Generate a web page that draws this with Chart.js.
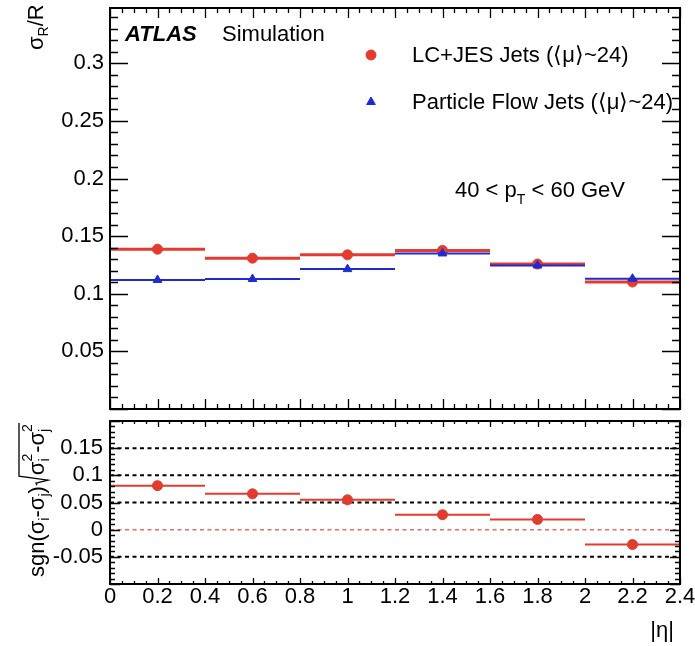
<!DOCTYPE html>
<html>
<head>
<meta charset="utf-8">
<script src="https://cdn.jsdelivr.net/npm/chart.js@4"></script>
<style>
  body { margin: 0; background: #fff; }
  #wrap { position: relative; width: 695px; height: 646px; background: #fff; }
  #mainChart { position: absolute; left: 0; top: 0; }
  #ratioChart { position: absolute; left: 0; top: 415px; }
</style>
</head>
<body>
<div id="wrap">
  <canvas id="mainChart" width="695" height="415"></canvas>
  <canvas id="ratioChart" width="695" height="231"></canvas>
</div>
<script>
// --- data ---
const binEdges = [0, 0.4, 0.8, 1.2, 1.6, 2.0, 2.4];
const lcjesSigma = [0.1387, 0.1309, 0.1338, 0.1376, 0.1258, 0.1102];
const pflowSigma = [0.1120, 0.1128, 0.1214, 0.1350, 0.1246, 0.1131];
const diffValues = [0.0810, 0.0659, 0.0549, 0.0274, 0.0188, -0.0274];
const diffErrors = [0.003, 0.002, 0.002, 0.006, 0.008, 0.002];
const refLines = [0.15, 0.1, 0.05, -0.05];
const zeroLine = [0];
const mainYTicks = [0.05, 0.1, 0.15, 0.2, 0.25, 0.3];
const ratioYTicks = [-0.05, 0, 0.05, 0.1, 0.15];
const xTicks = [0, 0.2, 0.4, 0.6, 0.8, 1, 1.2, 1.4, 1.6, 1.8, 2, 2.2, 2.4];

const FONT = '"Liberation Sans", Arial, Helvetica, sans-serif';
const RED = '#e33b2f';
const BLUE = '#1f2bd0';

// helpers to turn bins into points
function stepPoints(values) {
  const pts = [];
  values.forEach((v, i) => {
    pts.push({x: binEdges[i], y: v}, {x: binEdges[i + 1], y: v}, {x: binEdges[i + 1], y: null});
  });
  return pts;
}
function centerPoints(values) {
  return values.map((v, i) => ({x: (binEdges[i] + binEdges[i + 1]) / 2, y: v}));
}
function errPoints(values, errs) {
  const pts = [];
  values.forEach((v, i) => {
    const c = (binEdges[i] + binEdges[i + 1]) / 2;
    pts.push({x: c, y: v - errs[i]}, {x: c, y: v + errs[i]}, {x: c, y: null});
  });
  return pts;
}
function fullLine(y) {
  return [{x: binEdges[0], y: y}, {x: binEdges[binEdges.length - 1], y: y}];
}
function labelFor(v, list) {
  const hit = list.find(t => Math.abs(t - v) < 1e-6);
  return hit === undefined ? '' : String(hit);
}

// ROOT style frame with inward ticks on all four sides
function makeFrame(cfg) {
  return {
    id: 'frame',
    afterDatasetsDraw(chart) {
      const ctx = chart.ctx, a = chart.chartArea;
      const xs = chart.scales.x, ys = chart.scales.y;
      ctx.save();
      ctx.strokeStyle = '#000';
      ctx.lineWidth = 1.3;
      ctx.beginPath();
      const nx = Math.floor((xs.max - xs.min) / cfg.xMinor + 1e-6);
      for (let i = 0; i <= nx; i++) {
        const v = xs.min + i * cfg.xMinor;
        const major = Math.abs(v / cfg.xMajor - Math.round(v / cfg.xMajor)) < 1e-6;
        const len = major ? cfg.xMajLen : cfg.xMinLen;
        const px = Math.round(xs.getPixelForValue(v)) + 0.5;
        ctx.moveTo(px, a.bottom); ctx.lineTo(px, a.bottom - len);
        ctx.moveTo(px, a.top); ctx.lineTo(px, a.top + len);
      }
      const ny = Math.floor((ys.max - ys.min) / cfg.yMinor + 1e-6);
      for (let i = 0; i <= ny; i++) {
        const v = ys.min + i * cfg.yMinor;
        const major = Math.abs(v / cfg.yMajor - Math.round(v / cfg.yMajor)) < 1e-6;
        const len = major ? cfg.yMajLen : cfg.yMinLen;
        const py = Math.round(ys.getPixelForValue(v)) + 0.5;
        ctx.moveTo(a.left, py); ctx.lineTo(a.left + len, py);
        ctx.moveTo(a.right, py); ctx.lineTo(a.right - len, py);
      }
      ctx.stroke();
      ctx.lineWidth = 2;
      ctx.strokeRect(a.left, a.top, a.right - a.left, a.bottom - a.top);
      ctx.restore();
    }
  };
}

// draw a run of [text, size, dy, style] pieces, returns the end x
function runText(ctx, parts, x, y) {
  let cx = x;
  parts.forEach(p => {
    ctx.font = (p[3] || '') + ' ' + p[1] + 'px ' + FONT;
    ctx.fillText(p[0], cx, y + (p[2] || 0));
    cx += ctx.measureText(p[0]).width;
  });
  return cx;
}

const mainText = {
  id: 'mainText',
  afterDraw(chart) {
    const ctx = chart.ctx;
    ctx.save();
    ctx.fillStyle = '#000';
    ctx.textBaseline = 'alphabetic';
    ctx.textAlign = 'left';
    runText(ctx, [['ATLAS', 22, 0, 'italic bold']], 125, 41);
    runText(ctx, [['Simulation', 22]], 222, 41);
    // legend
    ctx.fillStyle = RED; ctx.strokeStyle = RED;
    Chart.helpers.drawPoint(ctx, {pointStyle: 'circle', radius: 5, borderWidth: 1}, 371, 55);
    ctx.fillStyle = BLUE; ctx.strokeStyle = BLUE;
    Chart.helpers.drawPoint(ctx, {pointStyle: 'triangle', radius: 5, borderWidth: 1}, 371, 102);
    ctx.fillStyle = '#000';
    runText(ctx, [['LC+JES Jets (\u27E8\u03BC\u27E9~24)', 22]], 412, 62);
    runText(ctx, [['Particle Flow Jets (\u27E8\u03BC\u27E9~24)', 22]], 412, 109);
    // kinematic range
    runText(ctx, [['40 < p', 22], ['T', 14, 7], [' < 60 GeV', 22]], 455, 197);
    // y title, rotated
    ctx.translate(43, 50);
    ctx.rotate(-Math.PI / 2);
    runText(ctx, [['\u03C3', 22], ['R', 14, 5], ['/R', 22]], 0, 0);
    ctx.restore();
  }
};

const ratioText = {
  id: 'ratioText',
  afterDraw(chart) {
    const ctx = chart.ctx;
    ctx.save();
    ctx.fillStyle = '#000';
    ctx.strokeStyle = '#000';
    ctx.textBaseline = 'alphabetic';
    ctx.textAlign = 'right';
    ctx.font = '22px ' + FONT;
    ctx.fillText('|\u03B7|', 674, 637 - 415);
    ctx.textAlign = 'left';
    // rotated y title
    ctx.translate(44, 577 - 415);
    ctx.rotate(-Math.PI / 2);
    let u = runText(ctx, [['sgn(\u03C3', 22], ['i', 14, 5], ['-\u03C3', 22], ['j', 14, 5], [')', 22]], 0, 0);
    // radical sign
    const start = u + 1;
    ctx.font = '22px ' + FONT;
    const w1 = ctx.measureText('\u03C3').width;
    ctx.font = '14px ' + FONT;
    const w2 = ctx.measureText('2').width;
    ctx.font = '22px ' + FONT;
    const w3 = ctx.measureText('-\u03C3').width;
    const endU = start + 9 + w1 + w2 + 1 + w3 + w2 + 2;
    ctx.lineWidth = 1.3;
    ctx.beginPath();
    ctx.moveTo(start, -7);
    ctx.lineTo(start + 2, -8);
    ctx.lineTo(start + 5, 4);
    ctx.lineTo(start + 9, -25);
    ctx.lineTo(endU, -25);
    ctx.stroke();
    let c = start + 10;
    runText(ctx, [['\u03C3', 22]], c, 0); c += w1;
    runText(ctx, [['2', 14, -12]], c, 0);
    runText(ctx, [['i', 14, 5]], c, 0); c += w2 + 1;
    runText(ctx, [['-\u03C3', 22]], c, 0); c += w3;
    runText(ctx, [['2', 14, -12]], c, 0);
    runText(ctx, [['j', 14, 5]], c, 0);
    ctx.restore();
  }
};

const tickFont = {family: FONT, size: 22};

// --- upper panel ---
new Chart(document.getElementById('mainChart'), {
  type: 'scatter',
  data: {
    datasets: [
      {label: 'LC+JES steps', data: stepPoints(lcjesSigma), showLine: true, borderColor: RED, borderWidth: 3, pointRadius: 0, spanGaps: false, order: 4},
      {label: 'LC+JES Jets', data: centerPoints(lcjesSigma), pointStyle: 'circle', pointRadius: 5, backgroundColor: RED, borderColor: RED, order: 3},
      {label: 'PF steps', data: stepPoints(pflowSigma), showLine: true, borderColor: BLUE, borderWidth: 2, pointRadius: 0, spanGaps: false, order: 2},
      {label: 'Particle Flow Jets', data: centerPoints(pflowSigma), pointStyle: 'triangle', pointRadius: 5, backgroundColor: BLUE, borderColor: BLUE, order: 1}
    ]
  },
  options: {
    responsive: false,
    animation: false,
    layout: {padding: {top: 8, right: 15, bottom: 3, left: 0}},
    plugins: {legend: {display: false}, tooltip: {enabled: false}},
    scales: {
      x: {type: 'linear', min: 0, max: 2.4, display: false},
      y: {
        type: 'linear', min: 0, max: 0.348,
        grid: {display: false, drawTicks: false},
        border: {display: false},
        ticks: {stepSize: 0.05, autoSkip: false, padding: 6, color: '#000', font: tickFont, callback: v => labelFor(v, mainYTicks)},
        afterFit: s => { s.width = 110; s.paddingTop = 0; s.paddingBottom = 0; }
      }
    }
  },
  plugins: [makeFrame({xMinor: 0.05, xMajor: 0.2, xMajLen: 10, xMinLen: 5, yMinor: 0.01, yMajor: 0.05, yMajLen: 18, yMinLen: 8}), mainText]
});

// --- lower panel ---
const ratioSets = [];
refLines.forEach(v => ratioSets.push({data: fullLine(v), showLine: true, borderColor: '#000', borderWidth: 2, borderDash: [4, 3.5], pointRadius: 0, order: 6}));
zeroLine.forEach(v => ratioSets.push({data: fullLine(v), showLine: true, borderColor: 'rgba(227,59,47,0.75)', borderWidth: 1.5, borderDash: [4, 3.5], pointRadius: 0, order: 5}));
ratioSets.push({data: stepPoints(diffValues), showLine: true, borderColor: RED, borderWidth: 2, pointRadius: 0, spanGaps: false, order: 3});
ratioSets.push({data: errPoints(diffValues, diffErrors), showLine: true, borderColor: RED, borderWidth: 2, pointRadius: 0, spanGaps: false, order: 2});
ratioSets.push({data: centerPoints(diffValues), pointStyle: 'circle', pointRadius: 5, backgroundColor: RED, borderColor: RED, order: 1});

new Chart(document.getElementById('ratioChart'), {
  type: 'scatter',
  data: {datasets: ratioSets},
  options: {
    responsive: false,
    animation: false,
    layout: {padding: {top: 5, right: 15, bottom: 0, left: 0}},
    plugins: {legend: {display: false}, tooltip: {enabled: false}},
    scales: {
      x: {
        type: 'linear', min: 0, max: 2.4,
        grid: {display: false, drawTicks: false},
        border: {display: false},
        ticks: {stepSize: 0.2, autoSkip: false, maxRotation: 0, padding: 0, color: '#000', font: tickFont, callback: v => labelFor(v, xTicks)},
        afterFit: s => { s.height = 62; s.paddingLeft = 0; s.paddingRight = 0; }
      },
      y: {
        type: 'linear', min: -0.1, max: 0.2,
        grid: {display: false, drawTicks: false},
        border: {display: false},
        ticks: {stepSize: 0.05, autoSkip: false, padding: 7, color: '#000', font: tickFont, callback: v => labelFor(v, ratioYTicks)},
        afterFit: s => { s.width = 110; s.paddingTop = 0; s.paddingBottom = 0; }
      }
    }
  },
  plugins: [makeFrame({xMinor: 0.05, xMajor: 0.2, xMajLen: 6, xMinLen: 3, yMinor: 0.01, yMajor: 0.05, yMajLen: 10, yMinLen: 5}), ratioText]
});
</script>
</body>
</html>
